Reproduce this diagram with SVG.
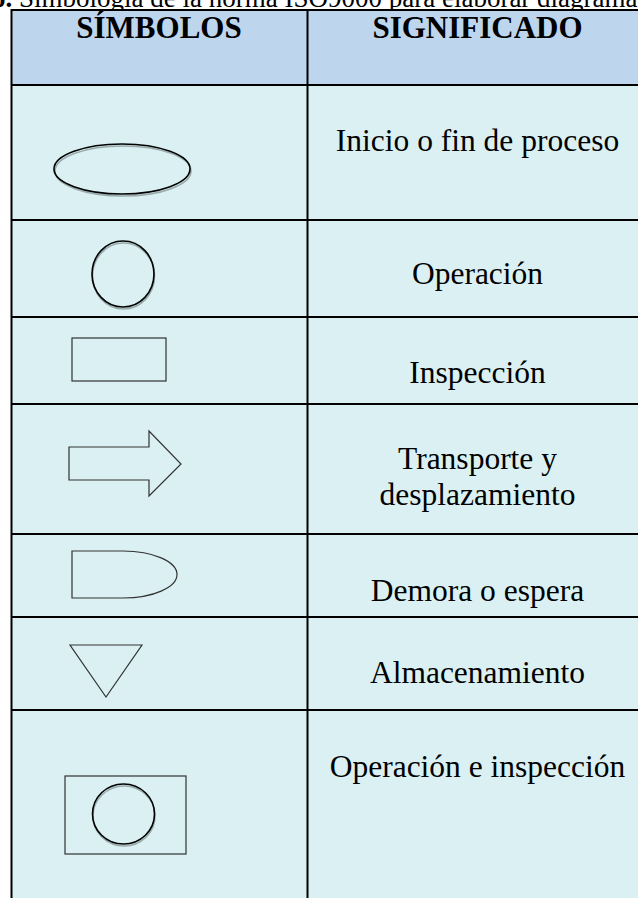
<svg xmlns="http://www.w3.org/2000/svg" width="638" height="898" viewBox="0 0 638 898">
<style>
.t{font-family:"Liberation Serif","Times New Roman",serif;font-size:31.5px;fill:#000;text-anchor:middle}
.h{font-family:"Liberation Serif","Times New Roman",serif;font-size:31px;font-weight:bold;fill:#000;text-anchor:middle}
.ttl{font-family:"Liberation Serif","Times New Roman",serif;font-size:27px;fill:#000}
.grid{stroke:#000;stroke-width:2;fill:none}
.sym{fill:none;stroke:#333;stroke-width:1.2}
.shd{fill:none;stroke:#9aa;stroke-width:1.6}
.ring{fill:none;stroke:#000;stroke-width:1.6}
</style>
<rect width="638" height="898" fill="#fff"/>
<text class="ttl" x="-8" y="7"><tspan font-weight="bold">o.</tspan> Simbología de la norma ISO9000 para elaborar diagramas</text>
<g id="table">
<rect x="11.5" y="10" width="640" height="75" fill="#BDD6EE"/>
<rect x="11.5" y="85" width="640" height="820" fill="#DAF0F3"/>
<g class="grid">
<line x1="11.5" y1="10" x2="650" y2="10"/>
<line x1="11.5" y1="85" x2="650" y2="85"/>
<line x1="11.5" y1="220" x2="650" y2="220"/>
<line x1="11.5" y1="317" x2="650" y2="317"/>
<line x1="11.5" y1="404" x2="650" y2="404"/>
<line x1="11.5" y1="534" x2="650" y2="534"/>
<line x1="11.5" y1="617" x2="650" y2="617"/>
<line x1="11.5" y1="710" x2="650" y2="710"/>
<line x1="11.5" y1="9" x2="11.5" y2="900"/>
<line x1="307.5" y1="9" x2="307.5" y2="900"/>
</g>
</g>
<g id="header">
<text class="h" x="159" y="38">SÍMBOLOS</text>
<text class="h" x="477.5" y="38">SIGNIFICADO</text>
</g>
<g id="row-inicio">
<ellipse class="shd" cx="123" cy="171" rx="68" ry="25"/>
<ellipse class="ring" cx="122" cy="169" rx="68" ry="25"/>
<text class="t" x="477.5" y="151">Inicio o fin de proceso</text>
</g>
<g id="row-operacion">
<ellipse class="shd" cx="123.5" cy="276" rx="31" ry="33"/>
<ellipse class="ring" cx="123" cy="274" rx="31" ry="33"/>
<text class="t" x="477.5" y="284">Operación</text>
</g>
<g id="row-inspeccion">
<rect class="sym" x="72" y="338" width="94" height="43"/>
<text class="t" x="477.5" y="383">Inspección</text>
</g>
<g id="row-transporte">
<polygon class="sym" points="69,447 149,447 149,431 181,464 149,496 149,480 69,480"/>
<text class="t" x="477.5" y="469">Transporte y</text>
<text class="t" x="477.5" y="505">desplazamiento</text>
</g>
<g id="row-demora">
<path class="sym" d="M72,551 H123 A54,23.5 0 0 1 123,598 H72 Z"/>
<text class="t" x="477.5" y="601">Demora o espera</text>
</g>
<g id="row-almacenamiento">
<polygon class="sym" points="70,645 142,645 106,697"/>
<text class="t" x="477.5" y="683">Almacenamiento</text>
</g>
<g id="row-op-insp">
<rect class="sym" x="65" y="776" width="121" height="78"/>
<ellipse class="shd" cx="124" cy="816" rx="31" ry="30"/>
<ellipse class="ring" cx="123.5" cy="814" rx="31" ry="30"/>
<text class="t" x="477.5" y="777">Operación e inspección</text>
</g>
</svg>
